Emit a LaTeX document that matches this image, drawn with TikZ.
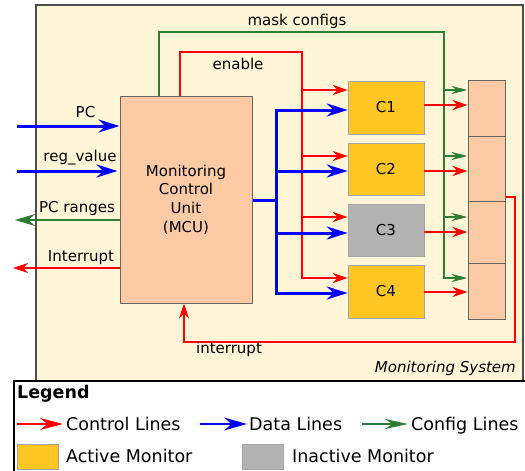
\documentclass[tikz,border=0pt]{standalone}
\usepackage{fontspec}
\setmainfont{DejaVu Sans}
\usetikzlibrary{arrows.meta}
\definecolor{cream}{HTML}{FFF5D7}
\definecolor{peach}{HTML}{FCCBA6}
\definecolor{amber}{HTML}{FEC622}
\definecolor{inact}{HTML}{B3B3B3}
\definecolor{cfggreen}{HTML}{2E7D32}
\definecolor{frame}{HTML}{4D4D4D}
\begin{document}
\begin{tikzpicture}[x=1pt,y=-1pt,
  lbl/.style={font=\fontsize{15}{18}\selectfont, inner sep=0pt},
  leglbl/.style={font=\fontsize{17.5}{20}\selectfont, inner sep=0pt},
  ctrl/.style={draw=red, line width=2pt, -{Stealth[length=15pt,width=10pt]}},
  ctrlline/.style={draw=red, line width=2pt},
  data/.style={draw=blue, line width=3pt, -{Stealth[length=21pt,width=13pt]}},
  dataline/.style={draw=blue, line width=3pt},
  cfg/.style={draw=cfggreen, line width=2pt, -{Stealth[length=16pt,width=8pt]}},
  monbox/.style={draw=black!35, line width=0.6pt, minimum width=76pt, inner sep=0pt, font=\fontsize{15}{18}\selectfont},
  regbox/.style={fill=peach, draw=black!60, line width=1pt, minimum width=37pt, inner sep=0pt},
]
\useasboundingbox (0,0) rectangle (525,471);
% outer system box
\draw[fill=cream, draw=frame, line width=1.5pt] (36,5) rectangle (523,381);
% legend box
\draw[fill=white, draw=black, line width=1.5pt] (14,381) rectangle (530,478);

% MCU
\node[fill=peach, draw=black!60, line width=1pt, minimum width=132pt, minimum height=207pt, inner sep=0pt,
  align=center, font=\fontsize{15}{18.7}\selectfont] (mcu) at (186,199.5)
  {Monitoring\\Control\\Unit\\(MCU)};

% monitors
\node[monbox, fill=amber, minimum height=53pt] (c1) at (386,107.5) {C1};
\node[monbox, fill=amber, minimum height=52pt] (c2) at (386,169) {C2};
\node[monbox, fill=inact, minimum height=52pt] (c3) at (386,230) {C3};
\node[monbox, fill=amber, minimum height=53pt] (c4) at (386,291.5) {C4};

% register stack
\node[regbox, minimum height=56pt] (s1) at (486.5,108) {};
\node[regbox, minimum height=65pt] (s2) at (486.5,168.5) {};
\node[regbox, minimum height=62pt] (s3) at (486.5,232) {};
\node[regbox, minimum height=56pt] (s4) at (486.5,291) {};

% mask configs (green)
\draw[cfg] (mcu.north -| 159,0) |- (444,32) -- (444,278) -- (s4.west |- 0,278);
\draw[cfg] (444,90) -- (s1.west |- 0,90);
\draw[cfg] (444,156) -- (s2.west |- 0,156);
\draw[cfg] (444,217) -- (s3.west |- 0,217);
\node[lbl, anchor=base] (lmask) at (297,25) {mask configs};

% enable (red)
\draw[ctrl] (mcu.north -| 180,0) |- (302,52) -- (302,278) -- (c4.west |- 0,278);
\draw[ctrl] (302,90) -- (c1.west |- 0,90);
\draw[ctrl] (302,156) -- (c2.west |- 0,156);
\draw[ctrl] (302,217) -- (c3.west |- 0,217);
\node[lbl, anchor=base] (lenable) at (238,69) {enable};

% data (blue)
\draw[dataline] (mcu.east |- 0,200) -- (276,200);
\draw[data] (276,200) |- (c1.west |- 0,110);
\draw[data] (276,200) |- (c4.west |- 0,293);
\draw[data] (276,171) -- (c2.west |- 0,171);
\draw[data] (276,233) -- (c3.west |- 0,233);

% monitor outputs
\draw[ctrl] (c1.east |- 0,105) -- (s1.west |- 0,105);
\draw[ctrl] (c2.east |- 0,171) -- (s2.west |- 0,171);
\draw[ctrl] (c3.east |- 0,232) -- (s3.west |- 0,232);
\draw[ctrl] (c4.east |- 0,292) -- (s4.west |- 0,292);

% interrupt feedback
\draw[ctrl] (s2.east |- 0,197) -- (515,197) -- (515,342) -- (184,342) -- (mcu.south -| 184,0);
\node[lbl, anchor=base] (lint) at (229,353) {interrupt};

% external signals
\coordinate (pcin) at (17,126);
\coordinate (regin) at (17,171);
\coordinate (rangesout) at (15,220);
\coordinate (intout) at (13,268);
\draw[data] (pcin) -- (mcu.west |- pcin);
\draw[data] (regin) -- ([xshift=-2pt]mcu.west |- regin);
\draw[cfg, -{Stealth[length=20pt,width=12pt]}] (mcu.west |- rangesout) -- (rangesout);
\draw[ctrl] (mcu.west |- intout) -- (intout);
\node[lbl, anchor=base] (lpc) at (85.5,117) {PC};
\node[lbl, anchor=base] (lreg) at (80,161) {reg\_value};
\node[lbl, anchor=base] (lranges) at (77,212) {PC ranges};
\node[lbl, anchor=base] (linterrupt) at (81,261) {Interrupt};

\node[lbl, anchor=base east, font=\fontsize{15}{18}\selectfont\itshape] (lsys) at (516,372) {Monitoring System};

% legend
\node[leglbl, anchor=base west, font=\fontsize{17.5}{20}\selectfont\bfseries] (lleg) at (17,398) {Legend};
\coordinate (la1) at (17,424); \coordinate (lb1) at (63,424);
\coordinate (la2) at (200,424); \coordinate (lb2) at (247,424);
\coordinate (la3) at (362,424); \coordinate (lb3) at (408,424);
\draw[ctrl, -{Stealth[length=23pt,width=12pt]}] (la1) -- (lb1);
\draw[data, line width=2.5pt, -{Stealth[length=23pt,width=13pt]}] (la2) -- (lb2);
\draw[cfg, -{Stealth[length=23pt,width=10pt]}] (la3) -- (lb3);
\node[leglbl, anchor=base west] (lctrl) at (66,430) {Control Lines};
\node[leglbl, anchor=base west] (ldata) at (249,430) {Data Lines};
\node[leglbl, anchor=base west] (lcfg) at (411,430) {Config Lines};
\node[draw=black!35, line width=0.6pt, fill=amber, minimum width=41pt, minimum height=25pt, inner sep=0pt] (swa) at (37.5,456.5) {};
\node[draw=black!35, line width=0.6pt, fill=inact, minimum width=41pt, minimum height=25pt, inner sep=0pt] (swi) at (262.5,456.5) {};
\node[leglbl, anchor=base west] (lact) at (66,462) {Active Monitor};
\node[leglbl, anchor=base west] (linact) at (292,462) {Inactive Monitor};
\end{tikzpicture}
\end{document}
